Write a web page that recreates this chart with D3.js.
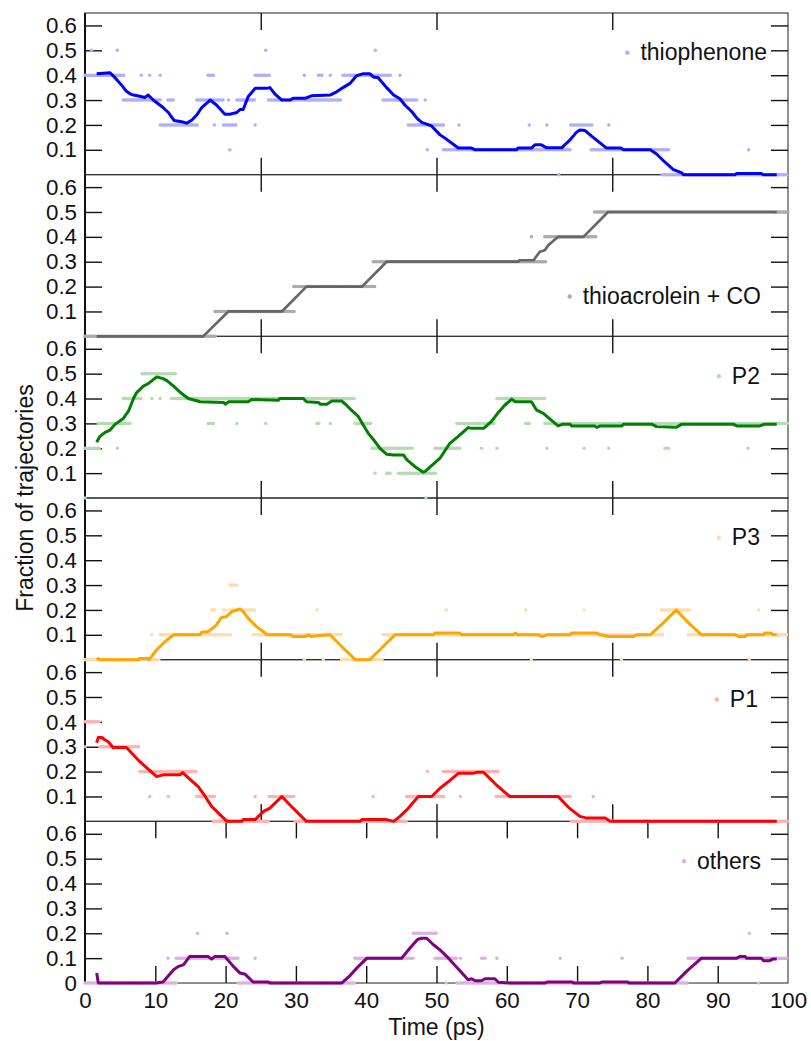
<!DOCTYPE html>
<html>
<head>
<meta charset="utf-8">
<script src="https://cdn.jsdelivr.net/npm/d3@7/dist/d3.min.js"></script>
<style>
  body { margin: 0; background: #fff; }
  text { font-family: "Liberation Sans", Arial, Helvetica, sans-serif; fill: #111; }
</style>
</head>
<body>
<svg id="chart" width="811" height="1041"></svg>
<script>
// ---- axis ticks ----
const timeTickLabels = [0, 10, 20, 30, 40, 50, 60, 70, 80, 90, 100];
const innerTimeTicks = [25, 50, 75];
const fractionTicks = [0.1, 0.2, 0.3, 0.4, 0.5, 0.6];

// ---- species (one panel each, top to bottom) ----
const speciesNames = ["thiophenone", "thioacrolein + CO", "P2", "P3", "P1", "others"];
const lineColors = ["#0000ff", "#666666", "#008000", "#ffa500", "#ff0000", "#800080"];
const dotColors  = ["#aeb0ff", "#ababab", "#b5dbb5", "#ffdcaa", "#ffb0b0", "#d9b3d9"];
const legendLevels = [0.49, 0.16, 0.49, 0.49, 0.49, 0.49];
const legendRightEdges = [767, 761, 760, 760, 758, 761];

// Instantaneous fraction of trajectories: runs of [t start (ps), t end (ps), fraction]
const thiophenoneRuns = [
  [0, 5.7, 0.4], [0.95, 0.95, 0.5], [4.6, 4.6, 0.5], [8.0, 8.0, 0.4], [9.2, 9.2, 0.4], [10.7, 10.7, 0.4],
  [5.45, 10.7, 0.3], [11.8, 12.6, 0.3], [10.7, 16.1, 0.2], [17.5, 18.3, 0.4], [15.9, 19.7, 0.3],
  [18.4, 18.4, 0.2], [19.7, 21.6, 0.2], [20.4, 20.4, 0.3], [20.6, 20.6, 0.1], [21.6, 24.2, 0.3],
  [24.2, 24.2, 0.2], [24.2, 26.2, 0.4], [25.7, 25.7, 0.5], [26.1, 36.5, 0.3], [31.2, 31.2, 0.4],
  [33.2, 33.9, 0.4], [34.9, 34.9, 0.4], [36.7, 43.6, 0.4], [41.3, 41.3, 0.5], [44.8, 44.8, 0.4],
  [42.4, 47.2, 0.3], [48.4, 48.4, 0.3], [46.0, 51.2, 0.2], [48.7, 48.7, 0.1], [51.0, 69.1, 0.1],
  [53.2, 53.2, 0.2], [63.2, 63.2, 0.2], [65.7, 65.7, 0.2], [69.1, 72.2, 0.2], [74.5, 74.5, 0.2],
  [67.4, 67.4, 0], [72.0, 83.2, 0.1], [82.1, 100, 0], [94.4, 94.4, 0.1]
];
const thioacroleinRuns = [
  [0, 18.7, 0], [18.5, 29.9, 0.1], [29.7, 41.3, 0.2], [41.0, 65.7, 0.3], [63.5, 63.5, 0.4],
  [65.4, 72.8, 0.4], [72.5, 100, 0.5]
];
const p2Runs = [
  [0, 2.1, 0.2], [4.6, 4.6, 0.2], [1.9, 6.4, 0.3], [17.5, 18.3, 0.3], [21.6, 21.6, 0.3], [25.7, 25.7, 0.3],
  [33.0, 33.4, 0.3], [34.9, 34.9, 0.3], [38.4, 40.8, 0.3], [5.45, 8.1, 0.4], [9.5, 9.5, 0.4],
  [10.7, 10.7, 0.4], [12.3, 38.4, 0.4], [8.1, 13.0, 0.5], [40.8, 46.7, 0.2], [41.25, 41.25, 0.1],
  [42.9, 43.4, 0.1], [44.6, 50.0, 0.1], [0, 0, 0], [48.5, 48.5, 0], [49.8, 53.3, 0.2], [56.4, 56.4, 0.2],
  [58.6, 58.6, 0.2], [65.7, 65.7, 0.2], [71.0, 71.0, 0.2], [74.5, 74.5, 0.2], [82.5, 83.1, 0.2],
  [94.3, 94.3, 0.2], [52.9, 58.3, 0.3], [62.7, 63.3, 0.3], [65.4, 100, 0.3], [58.6, 65.4, 0.4]
];
const p3Runs = [
  [0, 10.7, 0], [31.2, 31.2, 0], [33.9, 33.9, 0], [36.5, 42.4, 0], [9.5, 9.5, 0.1], [10.7, 20.9, 0.1],
  [23.9, 36.5, 0.1], [42.4, 82.3, 0.1], [85.8, 100, 0.1], [18.0, 18.7, 0.2], [19.7, 20.1, 0.2],
  [20.6, 24.2, 0.2], [33.0, 33.0, 0.2], [20.6, 21.6, 0.3], [51.4, 51.4, 0.2], [62.7, 62.7, 0.2],
  [71.0, 71.0, 0.2], [82.0, 86.0, 0.2], [95.8, 95.8, 0.2], [63.5, 63.5, 0], [76.3, 76.3, 0], [94.5, 94.5, 0]
];
const p1Runs = [
  [0, 2.1, 0.4], [0, 0, 0.3], [2.1, 7.8, 0.3], [7.8, 15.9, 0.2], [9.2, 9.2, 0.1], [11.85, 11.85, 0.1],
  [15.9, 18.5, 0.1], [24.2, 24.2, 0.1], [26.2, 29.9, 0.1], [41.0, 41.0, 0.1], [45.75, 51.2, 0.1],
  [53.4, 53.4, 0.1], [58.5, 69.2, 0.1], [72.3, 72.3, 0.1], [48.7, 48.7, 0.2], [51.0, 58.8, 0.2],
  [18.3, 26.1, 0], [29.9, 45.8, 0], [69.2, 100, 0]
];
const othersRuns = [
  [0, 13.0, 0], [21.8, 38.4, 0], [11.8, 11.8, 0.1], [13.0, 21.8, 0.1], [24.2, 24.2, 0.1], [38.4, 46.7, 0.1],
  [16.0, 16.0, 0.2], [20.2, 20.2, 0.2], [46.7, 50.0, 0.2], [49.8, 52.9, 0.1], [53.4, 53.4, 0.1],
  [56.4, 56.9, 0.1], [58.6, 58.6, 0.1], [67.6, 67.6, 0.1], [76.4, 76.4, 0.1], [85.8, 100, 0.1],
  [94.5, 94.5, 0.2], [51.4, 51.4, 0], [52.9, 85.8, 0], [95.8, 95.8, 0]
];

// Running averages: [t (ps), fraction]
const thiophenoneAvg = [
  [1.66, 0.406], [3.56, 0.41], [4.27, 0.39], [5.2, 0.36], [5.9, 0.335], [6.4, 0.325], [6.9, 0.32], [7.8, 0.315],
  [8.5, 0.31], [9.0, 0.32], [9.7, 0.30], [10.4, 0.285], [11.1, 0.27], [11.85, 0.25], [12.66, 0.218],
  [13.75, 0.213], [14.46, 0.207], [15.2, 0.22], [15.9, 0.24], [16.6, 0.27], [17.8, 0.30], [18.7, 0.28],
  [19.9, 0.243], [20.6, 0.243], [21.6, 0.25], [22.05, 0.262], [22.5, 0.262], [23.2, 0.313], [24.2, 0.347],
  [25.8, 0.347], [26.3, 0.35], [27.0, 0.325], [28.0, 0.30], [29.2, 0.30], [29.6, 0.307], [31.3, 0.307],
  [32.2, 0.317], [34.85, 0.32], [35.8, 0.333], [36.7, 0.35], [37.7, 0.367], [38.6, 0.397], [39.6, 0.406],
  [40.5, 0.406], [41.0, 0.393], [41.7, 0.39], [42.9, 0.35], [43.9, 0.32], [44.8, 0.305], [45.5, 0.28],
  [46.5, 0.253], [47.2, 0.227], [47.9, 0.21], [49.3, 0.196], [50.5, 0.16], [51.4, 0.143], [53.1, 0.107],
  [55.0, 0.107], [55.5, 0.10], [61.4, 0.10], [61.6, 0.107], [63.5, 0.107], [64.0, 0.12], [64.9, 0.12],
  [65.7, 0.108], [67.8, 0.108], [69.0, 0.14], [69.9, 0.17], [70.4, 0.18], [71.1, 0.178], [72.1, 0.154],
  [73.3, 0.127], [74.2, 0.107], [76.3, 0.107], [76.6, 0.10], [80.4, 0.10], [81.3, 0.083], [82.5, 0.05],
  [83.7, 0.02], [84.9, 0.007], [85.1, 0], [92.5, 0], [92.7, 0.005], [96.2, 0.005], [96.5, 0], [98.4, 0]
];
const thioacroleinAvg = [
  [1.66, 0], [16.8, 0], [20.4, 0.1], [28.0, 0.1], [31.5, 0.2], [39.4, 0.2], [42.9, 0.3], [61.6, 0.3],
  [61.8, 0.306], [63.8, 0.306], [64.7, 0.34], [65.4, 0.346], [65.9, 0.366], [67.3, 0.4], [70.9, 0.4],
  [74.4, 0.5], [98.4, 0.5]
];
const p2Avg = [
  [1.66, 0.224], [2.1, 0.247], [2.85, 0.264], [3.56, 0.273], [4.27, 0.296], [5.45, 0.32], [6.2, 0.35],
  [6.9, 0.40], [7.35, 0.424], [8.3, 0.45], [9.0, 0.46], [10.2, 0.487], [11.1, 0.48], [11.6, 0.473],
  [12.6, 0.45], [13.75, 0.42], [14.7, 0.40], [16.4, 0.387], [19.7, 0.384], [20.0, 0.377], [20.4, 0.387],
  [23.2, 0.387], [23.7, 0.396], [27.5, 0.393], [27.7, 0.40], [31.06, 0.40], [31.5, 0.387], [33.2, 0.384],
  [33.5, 0.377], [34.4, 0.377], [35.1, 0.39], [36.5, 0.39], [37.2, 0.373], [37.9, 0.353], [38.9, 0.327],
  [39.6, 0.293], [40.3, 0.26], [41.25, 0.227], [41.96, 0.20], [42.9, 0.176], [43.9, 0.173], [45.3, 0.173],
  [45.8, 0.153], [46.9, 0.127], [48.1, 0.104], [48.4, 0.107], [49.3, 0.13], [50.5, 0.16], [51.9, 0.22],
  [53.3, 0.253], [54.5, 0.283], [55.0, 0.28], [56.7, 0.28], [57.8, 0.307], [58.8, 0.344], [59.7, 0.373],
  [60.7, 0.397], [61.2, 0.387], [63.5, 0.387], [64.25, 0.353], [65.2, 0.34], [66.15, 0.317], [67.3, 0.29],
  [68.0, 0.297], [69.0, 0.297], [69.2, 0.29], [72.5, 0.29], [72.8, 0.284], [73.3, 0.29], [76.4, 0.29],
  [76.6, 0.297], [80.6, 0.297], [81.3, 0.287], [84.1, 0.284], [84.9, 0.297], [92.2, 0.297], [92.7, 0.29],
  [96.0, 0.29], [96.7, 0.297], [98.4, 0.297]
];
const p3Avg = [
  [1.66, 0.007], [2.1, 0], [7.6, 0], [7.7, 0.005], [9.0, 0.005], [9.1, 0], [10.2, 0.04], [11.4, 0.073],
  [12.6, 0.10], [16.4, 0.10], [16.6, 0.11], [17.5, 0.113], [18.3, 0.13], [18.7, 0.14], [19.4, 0.17],
  [20.1, 0.173], [20.9, 0.193], [22.05, 0.204], [22.5, 0.193], [23.2, 0.167], [24.4, 0.133], [25.8, 0.103],
  [26.1, 0.10], [29.2, 0.10], [29.6, 0.093], [31.3, 0.093], [31.8, 0.10], [32.2, 0.093], [33.4, 0.097],
  [34.85, 0.10], [35.8, 0.073], [37.0, 0.04], [38.2, 0.007], [38.4, 0], [40.5, 0], [41.7, 0.033],
  [42.9, 0.067], [44.1, 0.10], [49.5, 0.10], [49.8, 0.107], [53.3, 0.107], [53.6, 0.10], [60.9, 0.10],
  [61.2, 0.107], [61.6, 0.10], [64.5, 0.10], [65.0, 0.093], [65.7, 0.10], [69.0, 0.10], [69.2, 0.107],
  [72.8, 0.107], [73.3, 0.10], [74.5, 0.093], [78.0, 0.093], [78.5, 0.10], [80.4, 0.10], [82.3, 0.149],
  [84.1, 0.20], [85.8, 0.149], [87.7, 0.10], [92.5, 0.10], [93.0, 0.093], [93.9, 0.093], [94.1, 0.10],
  [96.5, 0.10], [96.7, 0.107], [97.6, 0.107], [97.9, 0.10], [98.4, 0.10]
];
const p1Avg = [
  [1.66, 0.316], [1.9, 0.337], [2.4, 0.337], [2.85, 0.327], [3.3, 0.32], [4.0, 0.297], [5.9, 0.297],
  [6.9, 0.267], [7.8, 0.24], [9.0, 0.21], [10.2, 0.18], [11.1, 0.187], [13.5, 0.187], [13.9, 0.196],
  [14.9, 0.17], [16.1, 0.14], [17.1, 0.10], [18.0, 0.06], [19.2, 0.027], [20.2, 0], [22.3, 0],
  [22.5, 0.007], [24.2, 0.007], [25.4, 0.04], [26.3, 0.053], [28.0, 0.10], [29.6, 0.053], [31.5, 0],
  [39.1, 0], [39.4, 0.007], [42.9, 0.007], [43.9, 0], [44.8, 0.02], [45.8, 0.047], [47.4, 0.10],
  [49.3, 0.10], [50.5, 0.133], [51.4, 0.153], [53.1, 0.193], [55.2, 0.193], [55.7, 0.197], [56.7, 0.197],
  [58.5, 0.147], [60.4, 0.10], [67.3, 0.10], [68.9, 0.053], [70.4, 0.02], [71.4, 0.013], [74.0, 0.013],
  [74.7, 0], [98.4, 0]
];
const othersAvg = [
  [1.66, 0.04], [1.9, 0], [10.0, 0], [11.1, 0.004], [12.6, 0.053], [13.3, 0.067], [14.0, 0.073],
  [14.9, 0.107], [17.5, 0.107], [18.0, 0.096], [18.5, 0.107], [19.9, 0.107], [21.1, 0.067], [22.05, 0.04],
  [22.8, 0.035], [23.9, 0.004], [26.1, 0.004], [26.3, 0], [36.5, 0], [37.7, 0.03], [38.9, 0.067],
  [40.1, 0.10], [45.05, 0.10], [46.2, 0.14], [47.3, 0.175], [47.9, 0.18], [48.6, 0.18], [49.6, 0.153],
  [50.5, 0.133], [51.7, 0.10], [53.4, 0.047], [54.5, 0.013], [55.0, 0.017], [55.5, 0.009], [56.4, 0.009],
  [56.9, 0.017], [58.3, 0.017], [58.8, 0.003], [60.5, 0], [65.4, 0], [65.7, 0.004], [69.3, 0.004],
  [69.5, 0], [73.2, 0], [73.5, 0.004], [77.2, 0.004], [77.4, 0], [83.9, 0], [85.8, 0.053], [87.7, 0.10],
  [92.7, 0.10], [93.2, 0.107], [93.9, 0.107], [94.1, 0.10], [96.2, 0.10], [96.5, 0.09], [97.4, 0.09],
  [97.9, 0.097], [98.4, 0.097]
];

const runsBySpecies = [thiophenoneRuns, thioacroleinRuns, p2Runs, p3Runs, p1Runs, othersRuns];
const avgBySpecies  = [thiophenoneAvg, thioacroleinAvg, p2Avg, p3Avg, p1Avg, othersAvg];

// ---- layout ----
const svg = d3.select("#chart");
const plotLeft = 85, plotRight = 788, plotTop = 13, panelH = 161.67;
const samplingStep = 0.25; // ps between recorded snapshots
const tickFont = 22.3, titleFont = 23, legendFont = 23;
const x = d3.scaleLinear().domain([0, 100]).range([plotLeft, plotRight]);

function expandRuns(runs) {
  const pts = [];
  runs.forEach(([t0, t1, v]) => {
    for (let t = t0; t <= t1 + 1e-9; t += samplingStep) pts.push([t, v]);
  });
  return pts;
}

const panels = speciesNames.map((name, i) => {
  const top = plotTop + i * panelH;
  const y = d3.scaleLinear().domain([0, 0.65]).range([top + panelH, top]);
  return { name, i, top, bottom: top + panelH, y };
});

const frameLayer = svg.append("g");
const dataLayer = svg.append("g");
const legendLayer = svg.append("g");

panels.forEach(p => {
  const last = p.i === panels.length - 1;
  const g = frameLayer.append("g");

  // frame
  g.append("rect")
    .attr("x", plotLeft).attr("y", p.top)
    .attr("width", plotRight - plotLeft).attr("height", panelH)
    .attr("fill", "none").attr("stroke", "#333").attr("stroke-width", 1.1);

  // left axis with labels
  const yTicks = last ? [0].concat(fractionTicks) : fractionTicks;
  const la = g.append("g").attr("transform", `translate(${plotLeft},0)`)
    .call(d3.axisLeft(p.y).tickValues(yTicks).tickSize(-17).tickPadding(8)
      .tickFormat(d => d === 0 ? "0" : d3.format(".1f")(d)));
  la.select(".domain").remove();
  la.selectAll("line").attr("stroke", "#111").attr("stroke-width", 1.4)
    .filter(d => d === 0).remove();
  la.selectAll("text").attr("font-size", tickFont).attr("fill", "#111")
    .attr("font-family", "'Liberation Sans', Arial, sans-serif");

  // right axis (ticks only)
  const ra = g.append("g").attr("transform", `translate(${plotRight},0)`)
    .call(d3.axisRight(p.y).tickValues(fractionTicks).tickSize(-17).tickFormat(""));
  ra.select(".domain").remove();
  ra.selectAll("line").attr("stroke", "#111").attr("stroke-width", 1.4);

  // top / bottom time ticks
  const xt = last ? timeTickLabels.slice(1, -1) : innerTimeTicks;
  const ta = g.append("g").attr("transform", `translate(0,${p.top})`)
    .call(d3.axisTop(x).tickValues(xt).tickSize(-17).tickFormat(""));
  ta.select(".domain").remove();
  ta.selectAll("line").attr("stroke", "#111").attr("stroke-width", 1.4);

  const ba = g.append("g").attr("transform", `translate(0,${p.bottom})`)
    .call(d3.axisBottom(x).tickValues(xt).tickSize(-17).tickFormat(""));
  ba.select(".domain").remove();
  ba.selectAll("line").attr("stroke", "#111").attr("stroke-width", 1.4);

  // left spine is heavier
  g.append("line")
    .attr("x1", plotLeft).attr("x2", plotLeft)
    .attr("y1", p.top).attr("y2", p.bottom)
    .attr("stroke", "#111").attr("stroke-width", 2);
});

// time labels under the last panel
const lastPanel = panels[panels.length - 1];
const xa = frameLayer.append("g").attr("transform", `translate(0,${lastPanel.bottom})`)
  .call(d3.axisBottom(x).tickValues(timeTickLabels).tickSize(0).tickPadding(9));
xa.select(".domain").remove();
xa.selectAll("text").attr("font-size", tickFont).attr("fill", "#111")
  .attr("font-family", "'Liberation Sans', Arial, sans-serif");

// data
panels.forEach(p => {
  const g = dataLayer.append("g");
  g.selectAll("circle")
    .data(expandRuns(runsBySpecies[p.i]))
    .join("circle")
    .attr("cx", d => x(d[0]))
    .attr("cy", d => p.y(d[1]))
    .attr("r", 1.75)
    .attr("fill", dotColors[p.i]);

  g.append("path")
    .datum(avgBySpecies[p.i])
    .attr("fill", "none")
    .attr("stroke", lineColors[p.i])
    .attr("stroke-width", p.i === 1 ? 2.7 : 3)
    .attr("stroke-linejoin", "round")
    .attr("d", d3.line().x(d => x(d[0])).y(d => p.y(d[1])));
});

// legends
panels.forEach(p => {
  const ly = p.y(legendLevels[p.i]);
  const rx = legendRightEdges[p.i];
  const t = legendLayer.append("text")
    .attr("x", rx).attr("y", ly + 7.5)
    .attr("text-anchor", "end")
    .attr("font-size", legendFont)
    .text(p.name);
  const w = t.node().getComputedTextLength();
  legendLayer.append("circle")
    .attr("cx", rx - w - 13).attr("cy", ly)
    .attr("r", 2.2).attr("fill", dotColors[p.i]);
});

// axis titles
svg.append("text")
  .attr("x", (plotLeft + plotRight) / 2).attr("y", 1034.5)
  .attr("text-anchor", "middle").attr("font-size", titleFont)
  .text("Time (ps)");

svg.append("text")
  .attr("transform", `translate(33,${plotTop + 3 * panelH}) rotate(-90)`)
  .attr("text-anchor", "middle").attr("font-size", titleFont)
  .text("Fraction of trajectories");
</script>
</body>
</html>
